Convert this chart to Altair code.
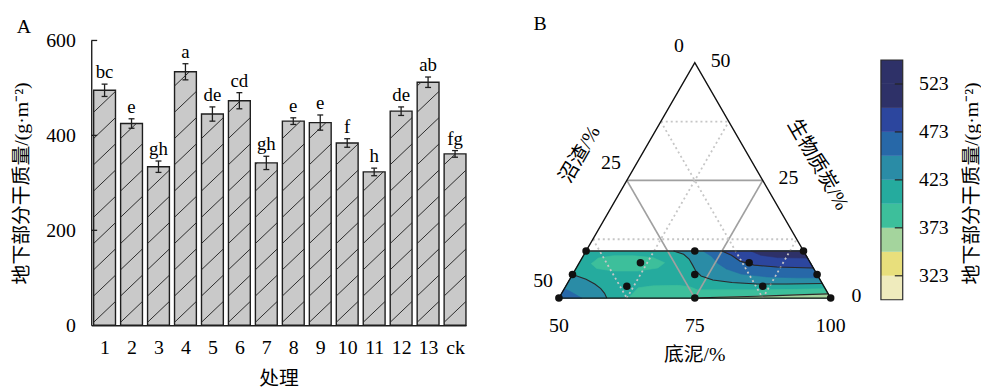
import json
import math
import altair as alt
import pandas as pd

# ---------------- Panel A: bar chart data ----------------
treatments = ["1", "2", "3", "4", "5", "6", "7", "8", "9", "10", "11", "12", "13", "ck"]
biomass = [495, 425, 334, 534, 445, 473, 342, 430, 427, 384, 323, 451, 512, 361]
biomass_err = [13, 10, 12, 17, 15, 17, 14, 7, 16, 9, 8, 9, 11, 7]
sig_letters = ["bc", "e", "gh", "a", "de", "cd", "gh", "e", "e", "f", "h", "de", "ab", "fg"]
y_ticks_a = [0, 200, 400, 600]

# ---------------- Panel B: ternary data (底泥 %, 生物质炭 %) ----------------
design_sediment = [50, 70, 90, 61.25, 81.25, 50, 72.5, 95, 61.25, 86.25, 50, 75, 100]
design_biochar = [10, 10, 10, 7.5, 7.5, 5, 5, 5, 2.5, 2.5, 0, 0, 0]
level_edges = [298, 323, 348, 373, 398, 423, 448, 473, 498, 523, 548]
level_colors = ["#efebbd", "#e8df7c", "#a4d49d", "#3dbf9b", "#25ab9e",
                "#2a8ca6", "#2768a8", "#2c469e", "#2e3168", "#2e3168"]
cbar_ticks = [323, 373, 423, 473, 523]
tern_ticks = [0, 25, 50]
tern_grid_solid = [25]
tern_grid_dotted = [12.5, 37.5]

region_strip = [(50, 0), (100, 0), (90, 10), (50, 10)]
region_oval = [(52.3, 7.3), (53.0, 8.5), (55.5, 9.0), (59.2, 9.0), (63.0, 8.6), (65.7, 7.5),
               (65.0, 6.4), (61.7, 5.75), (57.1, 5.75), (53.8, 6.3)]
region_low_mid = [(62.8, 0), (63.5, 2.2), (66.0, 2.6), (70.6, 2.7), (72.9, 2.4), (74.6, 1.75),
                  (78.3, 1.75), (85.6, 1.75), (92.8, 1.85), (98.0, 2.0), (100, 0)]
region_low_right = [(75, 0), (79.1, 0.17), (86.3, 0.38), (93.4, 0.69), (99.1, 0.9), (100, 0)]
region_corner_a = [(58.8, 0), (57.9, 1.0), (56.7, 2.0), (55.1, 3.0), (53.0, 4.0), (50, 5.0), (50, 0)]
region_corner_b = [(54.2, 0), (52.6, 0.8), (51.2, 1.5), (50, 2.0), (50, 0)]
region_r423 = [(66.1, 10), (68.3, 9.3), (69.8, 8.3), (71.1, 7.0), (72.3, 5.75), (73.8, 4.7),
               (76.4, 3.85), (80.2, 3.3), (85.0, 3.0), (90.4, 3.0), (96.9, 3.1), (90, 10)]
region_r448 = [(71.5, 10), (73.6, 8.9), (75.5, 7.4), (77.7, 6.2), (81.0, 5.1), (86.0, 4.5),
               (91.6, 4.3), (95.7, 4.3), (90, 10)]
region_r473 = [(75.0, 10), (77.2, 9.1), (79.4, 7.85), (82.4, 7.0), (86.8, 6.6), (93.6, 6.4), (90, 10)]
region_r498 = [(80.3, 10), (82.6, 9.1), (86.0, 8.6), (91.5, 8.5), (90, 10)]

regions = [(4, region_strip), (3, region_oval), (3, region_low_mid), (2, region_low_right),
           (5, region_corner_a), (6, region_corner_b), (5, region_r423), (6, region_r448),
           (7, region_r473), (8, region_r498)]
contour_lines = [region_corner_a[:-1], region_r423[:-1], region_r473[:-1], region_low_right[:-1]]

# ---------------- layout constants ----------------
SERIF = "Liberation Serif"
MIXED = "Liberation Serif, Noto Sans CJK SC"
FS = 20
A_W, A_H = 378.2, 287.4
X_DOMAIN = [0, 13.9]
BAR_OFF, BAR_W, CAP = 0.09, 0.81, 0.11
HATCH_RISE_PX, HATCH_GAP_PX, HATCH_PHASE_PX = 21, 26.5, 3
T_W, T_H = 345, 287.4
K = 5.486
TRI_LEFT_PX, TRI_BASE_PX = 35, 260
CB_W = 22
CB_TOP_PX, CB_BOT_PX = 19.7, 261.7

# ---------------- Panel A ----------------
bar_rows = []
for i, (t, v, e, l) in enumerate(zip(treatments, biomass, biomass_err, sig_letters)):
    x0 = i + BAR_OFF
    xc = x0 + BAR_W / 2
    bar_rows.append({"t": t, "x0": x0, "x1": x0 + BAR_W, "xc": xc, "v": v, "z": 0,
                     "lo": v - e, "hi": v + e, "cl": xc - CAP, "cr": xc + CAP, "lab": l})
bars_df = pd.DataFrame(bar_rows)

units_per_px = 600 / A_H
rise = HATCH_RISE_PX * units_per_px
gap = HATCH_GAP_PX * units_per_px
phase = HATCH_PHASE_PX * units_per_px
hatch_rows = []
for r in bar_rows:
    k = -1
    while True:
        yl = phase + k * gap
        if yl >= r["v"]:
            break
        t0 = max(0.0, -yl / rise)
        t1 = min(1.0, (r["v"] - yl) / rise)
        if t1 > t0:
            hatch_rows.append({"x0": r["x0"] + t0 * BAR_W, "x1": r["x0"] + t1 * BAR_W,
                               "v": yl + t0 * rise, "z": yl + t1 * rise})
        k += 1
hatch_df = pd.DataFrame(hatch_rows)

xs = alt.Scale(domain=X_DOMAIN, nice=False, zero=False)
ys = alt.Scale(domain=[0, 600], nice=False)
label_expr = f"{json.dumps(treatments)}[round(datum.value - {BAR_OFF + BAR_W / 2})]"
A_XT = "处理"
A_YT = "地下部分干质量/(g·m⁻²)"

x_axis = alt.Axis(
    values=list(bars_df["xc"]), labelExpr=label_expr, title=A_XT, ticks=False, tickSize=0,
    domainColor="#1e1e1e", domainWidth=1.4, labelPadding=13, labelFont=SERIF,
    labelFontSize=FS, labelColor="black", titleFont=MIXED, titleFontSize=FS,
    titleFontWeight="normal", titleColor="black", titlePadding=11, grid=False)
y_axis = alt.Axis(
    values=y_ticks_a, title=A_YT, ticks=False, tickSize=0,
    domainColor="#1e1e1e", domainWidth=1.4, labelPadding=16, labelFont=SERIF,
    labelFontSize=FS, labelColor="black", titleFont=MIXED, titleFontSize=FS,
    titleFontWeight="normal", titleColor="black", titlePadding=14, grid=False)


def ax(field):
    return alt.X(field, scale=xs, axis=x_axis, title=A_XT)


def ay(field):
    return alt.Y(field, scale=ys, axis=y_axis, title=A_YT)


bars = alt.Chart(bars_df).mark_rect(fill="#c9c9c9", stroke="#1e1e1e", strokeWidth=1.4).encode(
    x=ax("x0:Q"), x2="x1:Q", y=ay("v:Q"), y2="z:Q")
hatch = alt.Chart(hatch_df).mark_rule(color="#2a2a2a", strokeWidth=1).encode(
    x=ax("x0:Q"), x2="x1:Q", y=ay("v:Q"), y2="z:Q")
err = alt.Chart(bars_df).mark_rule(color="#1e1e1e", strokeWidth=1.3).encode(
    x=ax("xc:Q"), y=ay("lo:Q"), y2="hi:Q")
cap_hi = alt.Chart(bars_df).mark_rule(color="#1e1e1e", strokeWidth=1.3).encode(
    x=ax("cl:Q"), x2="cr:Q", y=ay("hi:Q"))
cap_lo = alt.Chart(bars_df).mark_rule(color="#1e1e1e", strokeWidth=1.3).encode(
    x=ax("cl:Q"), x2="cr:Q", y=ay("lo:Q"))
letters = alt.Chart(bars_df).mark_text(font=SERIF, fontSize=19, baseline="alphabetic", dy=-6,
                                       color="black").encode(
    x=ax("xc:Q"), y=ay("hi:Q"), text="lab:N")
yticks = alt.Chart(pd.DataFrame({"v": y_ticks_a[1:]})).mark_rule(color="#1e1e1e", strokeWidth=1.3).encode(
    x=alt.value(0), x2=alt.value(6), y=ay("v:Q"))
label_a = alt.Chart(pd.DataFrame({"t": ["A"]})).mark_text(font=SERIF, fontSize=FS, color="black").encode(
    x=alt.value(-68), y=alt.value(-14), text="t:N")

panel_a = alt.layer(bars, hatch, err, cap_hi, cap_lo, letters, yticks, label_a).properties(
    width=A_W, height=A_H)

# ---------------- Panel B: ternary ----------------
SQ3 = math.sqrt(3) / 2


def to_xy(d, c):
    return d + c / 2.0, c * SQ3


features = []
for band, pts in regions:
    ring = [list(to_xy(d, c)) for d, c in pts]
    ring.append(ring[0])
    features.append({"type": "Feature", "properties": {"fill": level_colors[band]},
                     "geometry": {"type": "Polygon", "coordinates": [ring]}})

shapes = alt.Chart(alt.Data(values=features)).mark_geoshape(strokeWidth=0.6).encode(
    fill=alt.Fill("properties.fill:N", scale=None),
    stroke=alt.Stroke("properties.fill:N", scale=None))


def grid_segments(vals):
    segs = []
    for v in vals:
        segs.append(((50, v), (100 - v, v)))          # 生物质炭 = v
        segs.append(((50, 50 - v), (100 - v, 0)))     # 沼渣 = v
        segs.append(((50 + v, 0), (50 + v, 50 - v)))  # 底泥 = 50 + v
    return segs


def line_rows(polys, prefix):
    rows = []
    for k, poly in enumerate(polys):
        for j, (d, c) in enumerate(poly):
            x, y = to_xy(d, c)
            rows.append({"id": f"{prefix}{k}", "o": j, "lon": x, "lat": y})
    return pd.DataFrame(rows)


solid_df = line_rows(grid_segments(tern_grid_solid), "s")
dotted_df = line_rows(grid_segments(tern_grid_dotted), "d")
contour_df = line_rows(contour_lines, "c")
strip_df = line_rows([[(50, 10), (90, 10)]], "t")
outline_df = line_rows([[(50, 0), (100, 0), (50, 50), (50, 0)]], "o")


def geo_line(df, **kw):
    return alt.Chart(df).mark_line(**kw).encode(
        longitude="lon:Q", latitude="lat:Q", detail="id:N", order="o:Q")


g_solid = geo_line(solid_df, color="#a0a0a0", strokeWidth=1.7)
g_dotted = geo_line(dotted_df, color="#c6c6c6", strokeWidth=1.8, strokeDash=[2, 3])
g_contour = geo_line(contour_df, color="#2a2a2a", strokeWidth=1.1)
g_strip = geo_line(strip_df, color="#2a2a2a", strokeWidth=1.4)
g_outline = geo_line(outline_df, color="#111111", strokeWidth=1.4)

pts_xy = [to_xy(d, c) for d, c in zip(design_sediment, design_biochar)]
pts_df = pd.DataFrame({"lon": [p[0] for p in pts_xy], "lat": [p[1] for p in pts_xy]})
dots = alt.Chart(pts_df).mark_circle(size=58, color="#111111", opacity=1, clip=False).encode(
    longitude="lon:Q", latitude="lat:Q")


def tick_df(points, labels):
    xy = [to_xy(d, c) for d, c in points]
    return pd.DataFrame({"lon": [p[0] for p in xy], "lat": [p[1] for p in xy],
                         "lab": [str(v) for v in labels]})


left_ticks = tick_df([(50, 50 - z) for z in tern_ticks], tern_ticks)
right_ticks = tick_df([(100 - c, c) for c in tern_ticks], tern_ticks)
bottom_vals = [50 + v for v in tern_ticks]
bottom_ticks = tick_df([(d, 0) for d in bottom_vals], bottom_vals)


def geo_text(df, font=SERIF, **kw):
    return alt.Chart(df).mark_text(font=font, fontSize=FS, color="black", clip=False, **kw).encode(
        longitude="lon:Q", latitude="lat:Q", text="lab:N")


t_left = geo_text(left_ticks, dx=-16, dy=-17)
t_right = geo_text(right_ticks, dx=26, dy=-2)
t_bottom = geo_text(bottom_ticks, dx=0, dy=28)

tt_b = geo_text(tick_df([(75, 0)], ["底泥/%"]), font=MIXED, dy=57)
tt_l = geo_text(tick_df([(50, 25)], ["沼渣/%"]), font=MIXED, angle=300, dx=-1, dy=-54)
tt_r = geo_text(tick_df([(75, 25)], ["生物质炭/%"]), font=MIXED, angle=60, dx=14, dy=-56)
label_b = alt.Chart(pd.DataFrame({"t": ["B"]})).mark_text(
    font=SERIF, fontSize=FS, color="black", clip=False).encode(
    x=alt.value(16), y=alt.value(-17), text="t:N")

panel_b = alt.layer(shapes, g_solid, g_dotted, g_contour, g_strip, g_outline, dots,
                    t_left, t_right, t_bottom, tt_b, tt_l, tt_r, label_b).project(
    type="identity", reflectY=True, scale=K,
    translate=[TRI_LEFT_PX - 50 * K, TRI_BASE_PX]).properties(width=T_W, height=T_H)

# ---------------- colour bar ----------------
ppu = (CB_BOT_PX - CB_TOP_PX) / (level_edges[-1] - level_edges[0])
cb_dom = [level_edges[0] - (T_H - CB_BOT_PX) / ppu, level_edges[-1] + CB_TOP_PX / ppu]
cys = alt.Scale(domain=cb_dom, nice=False, zero=False)
cb_title = "地下部分干质量/(g·m⁻²)"
cb_axis = alt.Axis(
    orient="right", values=cbar_ticks, domain=False, ticks=False, tickSize=0, labelPadding=16,
    labelFont=SERIF, labelFontSize=FS, labelColor="black", title=cb_title,
    titleAngle=270, titleBaseline="top", titleFont=MIXED, titleFontSize=FS,
    titleFontWeight="normal", titleColor="black", titlePadding=13, grid=False)
cb_df = pd.DataFrame({"lo": level_edges[:-1], "hi": level_edges[1:], "col": level_colors})
cb_rect = alt.Chart(cb_df).mark_rect().encode(
    x=alt.value(0), x2=alt.value(CB_W),
    y=alt.Y("lo:Q", scale=cys, axis=cb_axis, title=cb_title),
    y2="hi:Q", fill=alt.Fill("col:N", scale=None))
cb_frame = alt.Chart(pd.DataFrame({"lo": [level_edges[0]], "hi": [level_edges[-1]]})).mark_rect(
    fill="transparent", stroke="#2a2a2a", strokeWidth=1.2).encode(
    x=alt.value(0), x2=alt.value(CB_W),
    y=alt.Y("lo:Q", scale=cys, axis=cb_axis, title=cb_title), y2="hi:Q")
cb_ticks = alt.Chart(pd.DataFrame({"lo": cbar_ticks})).mark_rule(color="#222222", strokeWidth=1.2).encode(
    x=alt.value(14), x2=alt.value(CB_W),
    y=alt.Y("lo:Q", scale=cys, axis=cb_axis, title=cb_title))
panel_cb = alt.layer(cb_rect, cb_frame, cb_ticks).properties(width=CB_W, height=T_H)

chart = alt.hconcat(
    panel_a,
    alt.hconcat(panel_b, panel_cb, spacing=14),
    spacing=58,
).properties(
    padding={"left": 4, "top": 4, "right": 0, "bottom": 0}
).configure_view(stroke=None)

chart.save("out.html", embed_options={"renderer": "svg", "actions": False})
